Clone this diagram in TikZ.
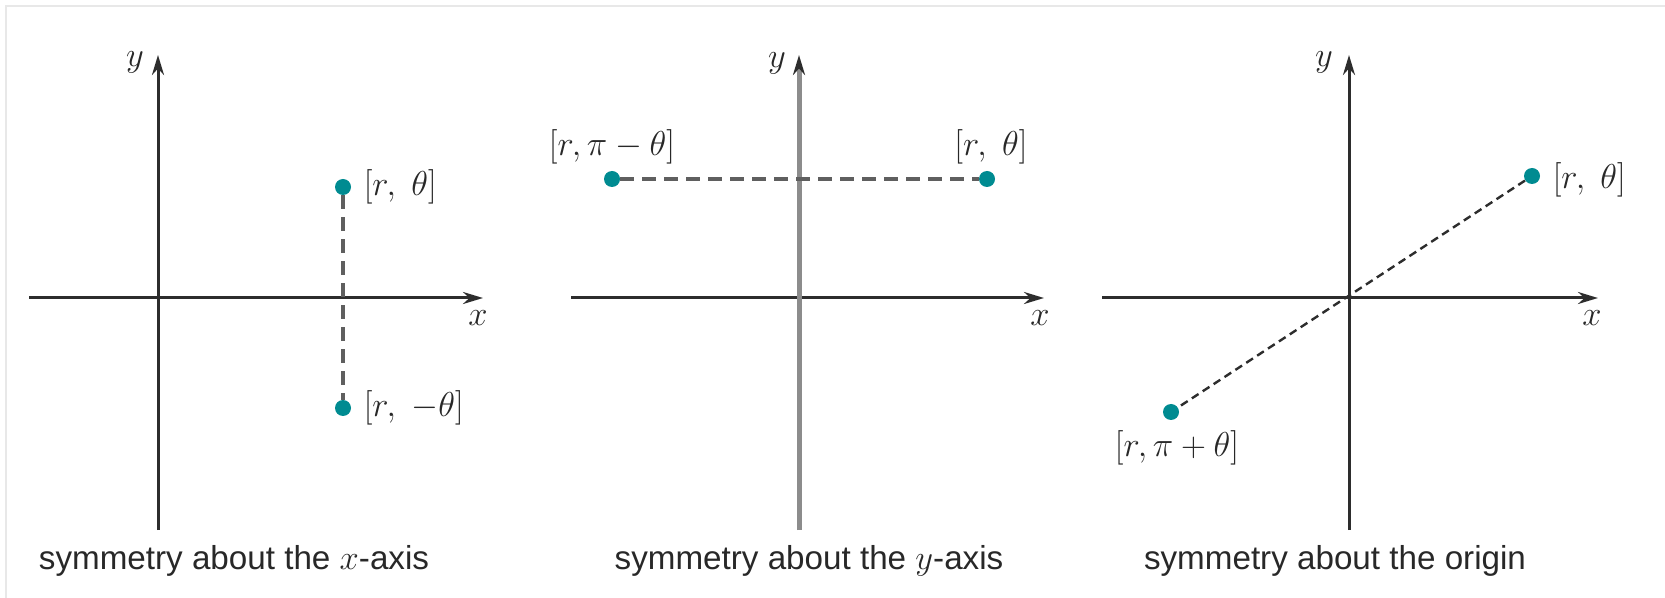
\documentclass[tikz,border=0pt]{standalone}
\usepackage{amsmath}
\usepackage{fontspec}
\setmainfont{Liberation Sans}
\usepackage{tikz}
\usetikzlibrary{arrows.meta,positioning}
\definecolor{symTeal}{RGB}{0,139,145}
\definecolor{symAxis}{RGB}{45,45,45}
\definecolor{symAxisLight}{RGB}{140,140,140}
\definecolor{symDash}{RGB}{95,95,95}
\definecolor{symFrame}{RGB}{232,232,232}
\definecolor{symText}{RGB}{40,40,40}

\begin{document}
\begin{tikzpicture}[x=0.5pt,y=-0.5pt,
  axis/.style={symAxis, line width=1.5pt, -{Stealth[length=10pt,width=6pt,symAxis]}},
  dot/.style={circle, fill=symTeal, inner sep=0pt, minimum size=8pt},
  lbl/.style={inner sep=0pt, text=symText, font=\fontsize{16}{19}\selectfont},
  axlbl/.style={inner sep=0pt, text=symText, font=\fontsize{16}{19}\selectfont},
  caption/.style={inner sep=0pt, text=symText, font=\fontsize{16.6}{19}\selectfont},
  dashwide/.style={symDash, line width=2pt, dash pattern=on 7pt off 4pt},
  dashfine/.style={symAxis, line width=1.2pt, dash pattern=on 4pt off 2.5pt}]
\useasboundingbox (0,0) rectangle (1665,598);
\draw[symFrame, line width=1pt] (6,598) -- (6,6) -- (1665,6);

% symmetry about the x-axis
\coordinate (xlA) at (29,298);
\coordinate (xrA) at (483,298);
\coordinate (ybA) at (158,530);
\coordinate (ytA) at (158,55);
\draw[axis] (xlA) -- (xrA);
\draw[axis] (ybA) -- (ytA);
\node[axlbl] (xA) at (478,318) {$x$};
\node[axlbl] (yA) at (135,62) {$y$};
\node[dot] (pA) at (343,187) {};
\node[dot] (qA) at (343,408) {};
\draw[dashwide] (pA) -- (qA);
\node[lbl, right=6pt of pA] (pAl) {$[r,\;\theta]$};
\node[lbl, right=6pt of qA] (qAl) {$[r,\;-\theta]$};
\node[caption] (capA) at (234,561) {symmetry about the $x$-axis};

% symmetry about the y-axis
\coordinate (xlB) at (571,298);
\coordinate (xrB) at (1044,298);
\coordinate (ybB) at (799,530);
\coordinate (ytB) at (799,55);
\draw[axis] (xlB) -- (xrB);
\draw[axis, symAxisLight, line width=2.5pt] (ybB) -- (ytB);
\node[axlbl] (xB) at (1040,318) {$x$};
\node[axlbl] (yB) at (777,63) {$y$};
\node[dot] (pB) at (612,179) {};
\node[dot] (qB) at (987,179) {};
\draw[dashwide] (pB) -- (qB);
\node[lbl, above=3pt of pB] (pBl) {$[r,\pi-\theta]$};
\node[lbl, above=3pt of qB, xshift=2pt] (qBl) {$[r,\;\theta]$};
\node[caption] (capB) at (809,561) {symmetry about the $y$-axis};

% symmetry about the origin
\coordinate (xlC) at (1102,298);
\coordinate (xrC) at (1598,298);
\coordinate (ybC) at (1349,530);
\coordinate (ytC) at (1349,55);
\draw[axis] (xlC) -- (xrC);
\draw[axis] (ybC) -- (ytC);
\node[axlbl] (xC) at (1592,318) {$x$};
\node[axlbl] (yC) at (1324,62) {$y$};
\node[dot] (pC) at (1532,176) {};
\node[dot] (qC) at (1171,412) {};
\draw[dashfine] (pC) -- (qC);
\node[lbl, right=6pt of pC, yshift=-2pt] (pCl) {$[r,\;\theta]$};
\node[lbl, below=5pt of qC, xshift=3pt] (qCl) {$[r,\pi+\theta]$};
\node[caption] (capC) at (1335,561) {symmetry about the origin};
\end{tikzpicture}
\end{document}
